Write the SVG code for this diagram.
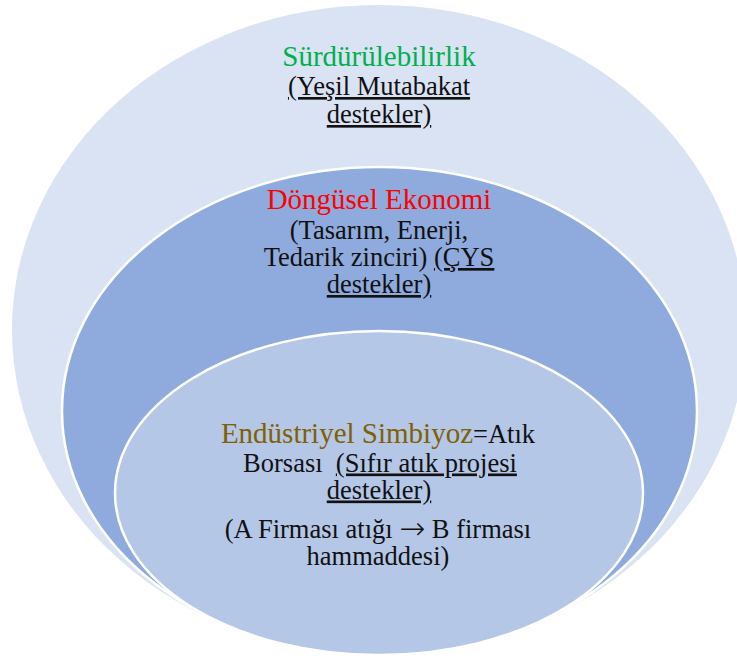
<svg xmlns="http://www.w3.org/2000/svg" width="737" height="664" viewBox="0 0 737 664">
<style>
  text { font-family: 'Liberation Serif', 'Times New Roman', serif; text-anchor: middle; fill: #111111; }
  .body { font-size: 26.5px; }
  .title { font-size: 29px; }
  .u { text-decoration: underline; }
  .arr { font-family: 'DejaVu Sans', sans-serif; font-weight: 200; font-size: 31px; }
  .ring { stroke: #FFFFFF; stroke-width: 2.5; }
</style>
<rect x="0" y="0" width="737" height="664" fill="#FFFFFF"/>
<g id="node-surdurulebilirlik">
  <ellipse cx="379" cy="330" rx="367" ry="325" fill="#DAE3F3"/>
  <text><tspan class="title" x="379" y="66" fill="#00B050">Sürdürülebilirlik</tspan><tspan class="body u" x="379" y="95">(Yeşil Mutabakat</tspan><tspan class="body u" x="379" y="123">destekler)</tspan></text>
</g>
<g id="node-dongusel-ekonomi">
  <ellipse class="ring" cx="379.5" cy="411" rx="317.5" ry="244" fill="#8FAADC"/>
  <text><tspan class="title" x="379" y="209" fill="#FF0000">Döngüsel Ekonomi</tspan><tspan class="body" x="379" y="239">(Tasarım, Enerji,</tspan><tspan class="body" x="379" y="266">Tedarik zinciri) <tspan class="u">(ÇYS</tspan></tspan><tspan class="body u" x="379" y="293">destekler)</tspan></text>
</g>
<g id="node-endustriyel-simbiyoz">
  <ellipse class="ring" cx="379" cy="493" rx="264" ry="162" fill="#B4C7E7"/>
  <text><tspan x="378" y="443"><tspan class="title" fill="#806000">Endüstriyel Simbiyoz</tspan><tspan class="body">=Atık</tspan></tspan><tspan class="body" x="380" y="471.5">Borsası&#160; <tspan class="u">(Sıfır atık projesi</tspan></tspan><tspan class="body u" x="379" y="498.5">destekler)</tspan><tspan class="body" x="378" y="537.5">(A Firması atığı <tspan class="arr" dy="1">→</tspan><tspan dy="-1"> B firması</tspan></tspan><tspan class="body" x="378" y="564.5">hammaddesi)</tspan></text>
</g>
</svg>
